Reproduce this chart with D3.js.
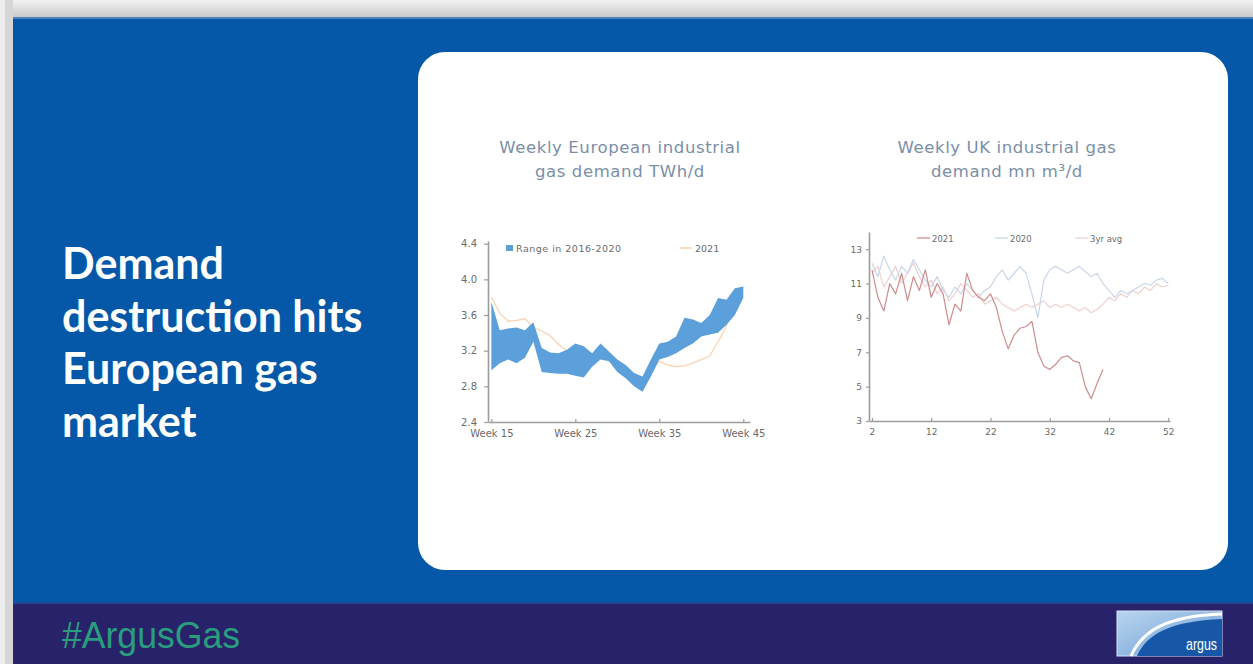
<!DOCTYPE html>
<html>
<head>
<meta charset="utf-8">
<script src="https://cdn.jsdelivr.net/npm/d3@7"></script>
<style>
  html, body { margin: 0; padding: 0; background: #e4e4e4; }
  svg { display: block; }
</style>
</head>
<body>
<svg id="slide" width="1253" height="664"></svg>
<script>
// ---- European industrial gas demand, TWh/d (weeks 15-45) ----
const euWeeks = d3.range(15, 46);
const euRangeLow = [2.98, 3.06, 3.10, 3.06, 3.12, 3.30, 2.96, 2.95, 2.94, 2.94, 2.92, 2.90, 3.02, 3.10, 3.08, 2.96,
  2.89, 2.80, 2.74, 2.91, 3.10, 3.13, 3.17, 3.23, 3.28, 3.36, 3.38, 3.40, 3.49, 3.60, 3.79];
const euRangeHigh = [3.75, 3.43, 3.45, 3.46, 3.43, 3.52, 3.23, 3.18, 3.17, 3.21, 3.28, 3.25, 3.17, 3.28, 3.19, 3.10,
  3.04, 2.95, 2.91, 3.10, 3.28, 3.30, 3.36, 3.57, 3.55, 3.51, 3.60, 3.79, 3.77, 3.90, 3.92];
const eu2021 = [3.80, 3.62, 3.53, 3.54, 3.56, 3.46, 3.42, 3.37, 3.27, 3.20, 3.16, 3.12, 3.10, 3.14, 3.12, 3.04,
  2.97, 2.90, 2.84, 2.98, 3.08, 3.04, 3.02, 3.03, 3.06, 3.10, 3.14, 3.30, 3.48, 3.70, 3.92];
const euYTicks = [2.4, 2.8, 3.2, 3.6, 4.0, 4.4];
const euXTicks = [15, 25, 35, 45];

// ---- UK industrial gas demand, mn m3/d (weeks 2-52) ----
const ukWeeks = d3.range(2, 53);
const uk2021 = [11.8, 10.2, 9.4, 11.0, 10.4, 11.6, 10.0, 11.4, 10.6, 11.8, 10.2, 11.0, 10.4, 8.6, 9.8, 9.4, 11.6,
  10.6, 10.2, 10.0, 10.4, 9.6, 8.2, 7.2, 8.0, 8.4, 8.5, 8.8, 7.0, 6.2, 6.0, 6.3, 6.7, 6.8, 6.5, 6.4, 5.0, 4.3, 5.2, 6.0];
const uk2020 = [12.2, 11.4, 12.6, 11.8, 11.2, 12.0, 11.6, 12.4, 11.8, 11.2, 10.8, 11.4, 10.6, 10.2, 10.8, 10.4, 11.0,
  10.6, 10.2, 10.6, 10.8, 11.4, 11.8, 11.2, 11.6, 12.0, 11.6, 10.4, 9.0, 11.2, 11.8, 12.0, 11.8, 11.6, 11.8, 12.0,
  11.7, 11.4, 11.6, 11.0, 10.6, 10.2, 10.6, 10.4, 10.6, 10.8, 11.0, 10.9, 11.2, 11.3, 11.0];
const uk3yrAvg = [11.6, 12.0, 10.8, 11.4, 12.0, 11.0, 11.6, 12.2, 11.4, 10.8, 11.2, 10.4, 10.8, 10.0, 10.4, 11.0, 10.6,
  10.2, 10.4, 9.8, 10.0, 10.2, 9.8, 9.6, 9.4, 9.6, 9.8, 9.6, 9.8, 10.0, 9.6, 9.8, 9.6, 9.8, 9.6, 9.4, 9.6, 9.3, 9.5,
  9.8, 10.2, 10.0, 10.4, 10.2, 10.6, 10.4, 10.8, 10.6, 11.0, 10.8, 10.9];
const ukYTicks = [3, 5, 7, 9, 11, 13];
const ukXTicks = [2, 12, 22, 32, 42, 52];

const headline = ["Demand", "destruction hits", "European gas", "market"];

const svg = d3.select("#slide");

// ---- slide frame ----
const defs = svg.append("defs");
const topShade = defs.append("linearGradient").attr("id", "topShade").attr("x1", 0).attr("y1", 0).attr("x2", 0).attr("y2", 1);
topShade.append("stop").attr("offset", "0%").attr("stop-color", "#f2f2f2");
topShade.append("stop").attr("offset", "100%").attr("stop-color", "#c9c9c9");
svg.append("rect").attr("x", 0).attr("y", 0).attr("width", 1253).attr("height", 18).attr("fill", "url(#topShade)");
svg.append("rect").attr("x", 0).attr("y", 0).attr("width", 13).attr("height", 664).attr("fill", "#d6d6d6");
svg.append("rect").attr("x", 0).attr("y", 0).attr("width", 5).attr("height", 664).attr("fill", "#ededed");

svg.append("rect").attr("x", 13).attr("y", 17).attr("width", 1240).attr("height", 587).attr("fill", "#0558a8");
svg.append("rect").attr("x", 13).attr("y", 17).attr("width", 1240).attr("height", 2).attr("fill", "#4f84bb");
svg.append("rect").attr("x", 13).attr("y", 603).attr("width", 1240).attr("height", 61).attr("fill", "#28226b");
svg.append("rect").attr("x", 13).attr("y", 602).attr("width", 1240).attr("height", 2).attr("fill", "#20468e");

// headline
const head = svg.append("text")
  .attr("fill", "#ffffff")
  .attr("font-family", "Lato, 'Open Sans', sans-serif")
  .attr("font-weight", 700)
  .attr("font-size", 43);
headline.forEach((line, i) => {
  head.append("tspan").attr("x", 62).attr("y", 279 + i * 52.7).text(line);
});

// white card
svg.append("rect").attr("x", 418).attr("y", 52).attr("width", 810).attr("height", 518)
  .attr("rx", 27).attr("fill", "#ffffff");

// footer hashtag
svg.append("text").attr("x", 62).attr("y", 648)
  .attr("fill", "#2a9d7d")
  .attr("font-family", "'Liberation Sans Narrow', 'Liberation Sans', sans-serif")
  .attr("font-size", 37)
  .attr("textLength", 178).attr("lengthAdjust", "spacingAndGlyphs")
  .text("#ArgusGas");

// argus logo
const logo = svg.append("g").attr("transform", "translate(1117,611)");
const logoGrad = defs.append("linearGradient").attr("id", "logoGrad").attr("x1", 0).attr("y1", 0).attr("x2", 1).attr("y2", 1);
logoGrad.append("stop").attr("offset", "0%").attr("stop-color", "#b8d4ee");
logoGrad.append("stop").attr("offset", "100%").attr("stop-color", "#6d9fd6");
logo.append("rect").attr("width", 105).attr("height", 45).attr("fill", "url(#logoGrad)").attr("stroke", "#d5e4f3").attr("stroke-width", 1);
logo.append("path").attr("d", "M20,45 C30,22 55,10 105,8 L105,45 Z").attr("fill", "#1657a8");
logo.append("path").attr("d", "M14,45 C26,18 52,5 105,3").attr("fill", "none").attr("stroke", "#ffffff").attr("stroke-width", 3);
logo.append("text").attr("x", 100).attr("y", 39).attr("text-anchor", "end")
  .attr("fill", "#ffffff").attr("font-family", "'Liberation Sans Narrow', 'Liberation Sans', sans-serif")
  .attr("font-size", 17).attr("textLength", 31).attr("lengthAdjust", "spacingAndGlyphs").text("argus");

// ---- chart helpers ----
const axisColor = "#9c9c9c";
const labelColor = "#6b6b6b";
const titleColor = "#7a8ea6";

function chartTitle(cx, lines) {
  const t = svg.append("text").attr("text-anchor", "middle").attr("fill", titleColor)
    .attr("font-family", "'DejaVu Sans', sans-serif").attr("font-size", 16.5)
    .attr("letter-spacing", 0.6);
  lines.forEach((l, i) => t.append("tspan").attr("x", cx).attr("y", 153 + i * 24).text(l));
}

function styleAxis(g, size) {
  g.selectAll(".domain").attr("stroke", axisColor).attr("stroke-width", 1.6);
  g.selectAll(".tick line").attr("stroke", axisColor).attr("stroke-width", 1.2);
  g.selectAll(".tick text").attr("fill", labelColor)
    .attr("font-family", "'DejaVu Sans', sans-serif").attr("font-size", size);
}

// ---- European chart ----
chartTitle(620, ["Weekly European industrial", "gas demand TWh/d"]);

const xEu = d3.scaleLinear().domain([14.6, 45.8]).range([488, 750]);
const yEu = d3.scaleLinear().domain([2.4, 4.43]).range([422, 241]);

const euRows = euWeeks.map((w, i) => ({ w, lo: euRangeLow[i], hi: euRangeHigh[i], v: eu2021[i] }));

svg.append("path").datum(euRows)
  .attr("fill", "none").attr("stroke", "#f7d4b4").attr("stroke-width", 1.3)
  .attr("d", d3.line().x(d => xEu(d.w)).y(d => yEu(d.v)));

svg.append("path").datum(euRows)
  .attr("fill", "#5b9fdb")
  .attr("d", d3.area().x(d => xEu(d.w)).y0(d => yEu(d.lo)).y1(d => yEu(d.hi)));

const euYAxis = svg.append("g").attr("transform", `translate(${xEu(14.6)},0)`)
  .call(d3.axisLeft(yEu).tickValues(euYTicks).tickFormat(d3.format(".1f")).tickSize(4).tickSizeOuter(0).tickPadding(7));
styleAxis(euYAxis, 10);
const euXAxis = svg.append("g").attr("transform", `translate(0,${yEu(2.4)})`)
  .call(d3.axisBottom(xEu).tickValues(euXTicks).tickFormat(d => "Week " + d).tickSize(-3).tickSizeOuter(0).tickPadding(8));
styleAxis(euXAxis, 10);

// legend
svg.append("rect").attr("x", 506).attr("y", 245).attr("width", 7).attr("height", 6).attr("fill", "#5b9fdb");
svg.append("text").attr("x", 516).attr("y", 252).attr("fill", labelColor)
  .attr("font-family", "'DejaVu Sans', sans-serif").attr("font-size", 9.5).attr("letter-spacing", 0.5)
  .text("Range in 2016-2020");
svg.append("line").attr("x1", 680).attr("x2", 692).attr("y1", 248).attr("y2", 248)
  .attr("stroke", "#f5c9a2").attr("stroke-width", 1.3);
svg.append("text").attr("x", 695).attr("y", 252).attr("fill", labelColor)
  .attr("font-family", "'DejaVu Sans', sans-serif").attr("font-size", 9.5).text("2021");

// ---- UK chart ----
chartTitle(1007, ["Weekly UK industrial gas", "demand mn m\u00b3/d"]);

const xUk = d3.scaleLinear().domain([1.5, 52.3]).range([869, 1170]);
const yUk = d3.scaleLinear().domain([3, 14]).range([421, 232]);

const ukSeries = [
  { name: "2021", values: uk2021, color: "#cf8c8c" },
  { name: "2020", values: uk2020, color: "#c8d6e9" },
  { name: "3yr avg", values: uk3yrAvg, color: "#efcfcf" }
];
const ukLine = d3.line().x(d => xUk(d.w)).y(d => yUk(d.v));
[ukSeries[2], ukSeries[1], ukSeries[0]].forEach(s => {
  svg.append("path")
    .datum(s.values.map((v, i) => ({ w: ukWeeks[i], v })))
    .attr("fill", "none").attr("stroke", s.color).attr("stroke-width", 1.2)
    .attr("stroke-linejoin", "round")
    .attr("d", ukLine);
});

const ukYAxis = svg.append("g").attr("transform", `translate(${xUk(1.5)},0)`)
  .call(d3.axisLeft(yUk).tickValues(ukYTicks).tickSize(3).tickSizeOuter(0).tickPadding(4));
styleAxis(ukYAxis, 9);
const ukXAxis = svg.append("g").attr("transform", `translate(0,${yUk(3)})`)
  .call(d3.axisBottom(xUk).tickValues(ukXTicks).tickSize(-3).tickSizeOuter(0).tickPadding(8));
styleAxis(ukXAxis, 9);

// legend
const legX = [917, 995, 1075];
ukSeries.forEach((s, i) => {
  svg.append("line").attr("x1", legX[i]).attr("x2", legX[i] + 13).attr("y1", 238).attr("y2", 238)
    .attr("stroke", s.color).attr("stroke-width", 1.3);
  svg.append("text").attr("x", legX[i] + 15).attr("y", 241.5).attr("fill", labelColor)
    .attr("font-family", "'DejaVu Sans', sans-serif").attr("font-size", 8.5).text(s.name);
});
</script>
</body>
</html>
